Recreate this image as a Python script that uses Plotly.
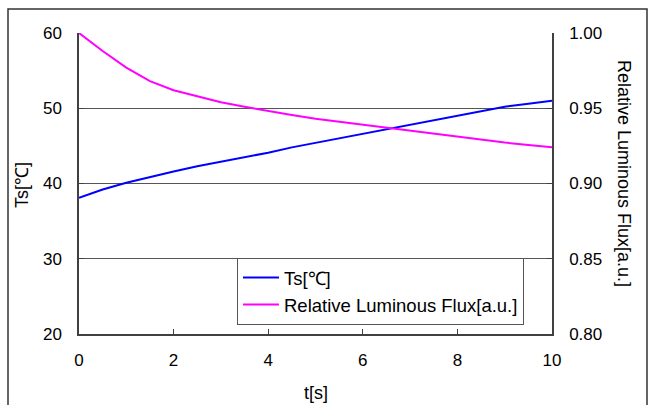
import plotly.graph_objects as go

t_s = [0, 0.5, 1, 1.5, 2, 2.5, 3, 3.5, 4, 4.5, 5, 5.5, 6, 6.5, 7, 7.5, 8, 8.5, 9, 9.5, 10]
ts_c = [38.1, 39.2, 40.1, 40.9, 41.6, 42.3, 42.9, 43.5, 44.1, 44.8, 45.4, 46.0, 46.6,
        47.2, 47.8, 48.4, 49.0, 49.6, 50.2, 50.6, 51.0]
flux = [1.000, 0.988, 0.977, 0.968, 0.962, 0.958, 0.954, 0.951, 0.948, 0.9455, 0.943,
        0.941, 0.939, 0.937, 0.935, 0.933, 0.931, 0.929, 0.9272, 0.9256, 0.924]

FONT = "Liberation Sans, Arial, sans-serif"
AX = "#404040"

fig = go.Figure()
fig.add_trace(go.Scatter(x=t_s, y=ts_c, mode="lines", name="Ts[℃]",
                         line=dict(color="#0000FF", width=2)))
fig.add_trace(go.Scatter(x=t_s, y=flux, mode="lines", name="Relative Luminous Flux[a.u.]",
                         line=dict(color="#FF00FF", width=2), yaxis="y2"))

fig.update_layout(
    width=657, height=405,
    margin=dict(l=79, r=105, t=33, b=71),
    paper_bgcolor="white", plot_bgcolor="white",
    font=dict(family=FONT, size=17, color="black"),
    showlegend=True,
    legend=dict(x=0.334, y=0.2525, xanchor="left", yanchor="top",
                bgcolor="white", bordercolor="#555555", borderwidth=1,
                font=dict(size=18.5), tracegroupgap=0, itemwidth=36),
    xaxis=dict(range=[0, 10], dtick=2, showgrid=False, showline=True, linecolor=AX,
               linewidth=1.5, ticks="inside", ticklen=5, tickcolor=AX, zeroline=False,
               ticklabelstandoff=10, mirror=False),
    yaxis=dict(range=[20, 60], dtick=10, showgrid=True, gridcolor="#555555", gridwidth=1,
               showline=True, linecolor=AX, linewidth=1.5, ticks="inside", ticklen=5,
               tickcolor=AX, zeroline=False, ticklabelstandoff=12),
    yaxis2=dict(range=[0.8, 1.0], dtick=0.05, tickformat=".2f", overlaying="y", side="right",
                showgrid=False, showline=True, linecolor=AX, linewidth=1.5, ticks="inside",
                ticklen=5, tickcolor=AX, zeroline=False, ticklabelstandoff=12),
    shapes=[dict(type="rect", xref="paper", yref="paper",
                 x0=(8 - 79) / 473, x1=(647 - 79) / 473,
                 y0=-0.4, y1=(334 - 9) / 301,
                 line=dict(color="#333333", width=1.5), fillcolor="rgba(0,0,0,0)", layer="below")],
    annotations=[
        dict(text="t[s]", xref="paper", yref="paper", x=0.5, y=(334 - 393) / 301,
             showarrow=False, xanchor="center", yanchor="middle", font=dict(size=18)),
        dict(text="Ts[℃]", xref="paper", yref="paper", x=(22 - 79) / 473, y=(334 - 185) / 301,
             showarrow=False, textangle=-90, xanchor="center", yanchor="middle",
             font=dict(size=18)),
        dict(text="Relative Luminous Flux[a.u.]", xref="paper", yref="paper",
             x=(624 - 79) / 473, y=(334 - 173) / 301, showarrow=False, textangle=90,
             xanchor="center", yanchor="middle", font=dict(size=18)),
    ],
)

fig.write_html("out.html")
